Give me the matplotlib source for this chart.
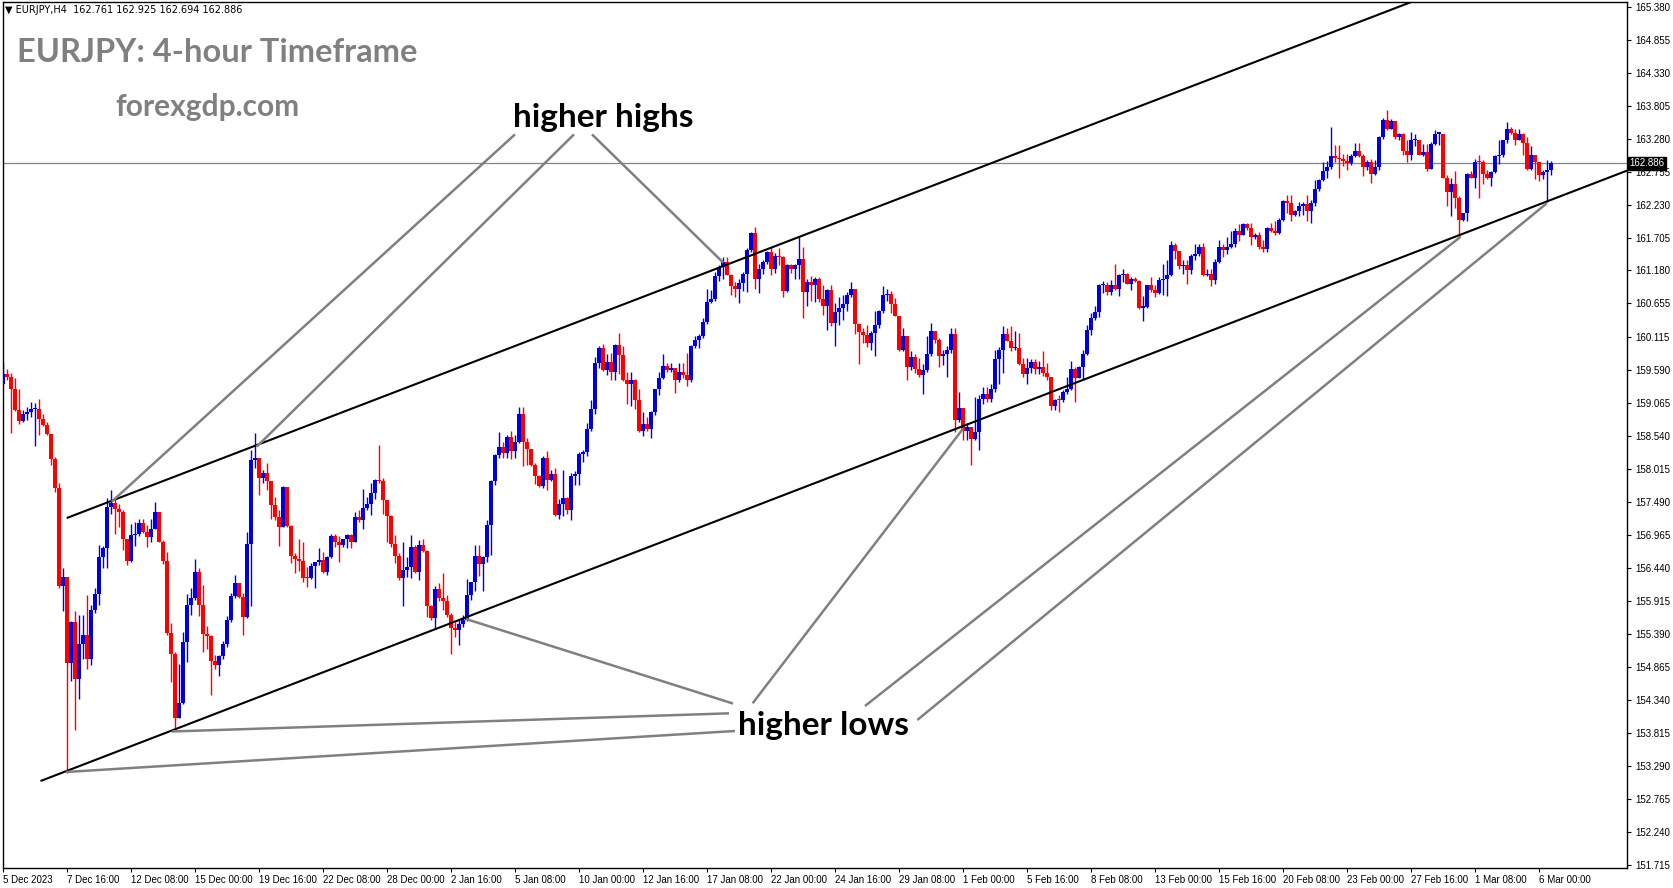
import matplotlib
matplotlib.use('Agg')
import matplotlib.pyplot as plt

# EURJPY H4 candles, 5 Dec 2023 -> 6 Mar 2024
first_open = 159.38
closes = [
    159.53, 159.49, 159.30, 158.96, 158.79, 158.90, 158.93, 158.97, 158.98, 158.82,
    158.72, 158.57, 158.17, 157.71, 156.16, 156.30, 154.93, 155.59, 154.68, 155.23,
    155.38, 154.99, 155.77, 156.03, 156.61, 156.76, 157.42, 157.48, 157.38, 157.34,
    156.90, 156.56, 156.97, 156.98, 157.16, 157.02, 156.93, 157.07, 157.33, 156.86,
    156.56, 155.40, 155.08, 154.06, 154.29, 155.26, 155.85, 155.96, 156.38, 155.85,
    155.39, 155.36, 154.96, 154.90, 155.04, 155.24, 155.61, 155.99, 156.20, 155.98,
    155.66, 156.82, 158.16, 158.19, 157.87, 157.96, 157.83, 157.45, 157.25, 157.10,
    157.74, 157.11, 156.63, 156.58, 156.56, 156.29, 156.28, 156.47, 156.53, 156.57,
    156.38, 156.62, 156.95, 156.86, 156.81, 156.90, 156.97, 156.85, 157.25, 157.21,
    157.39, 157.46, 157.63, 157.85, 157.82, 157.53, 157.27, 156.83, 156.63, 156.28,
    156.41, 156.46, 156.78, 156.38, 156.81, 156.72, 155.84, 155.64, 156.10, 155.96,
    155.92, 155.69, 155.48, 155.45, 155.55, 155.61, 156.01, 156.22, 156.63, 156.51,
    156.62, 157.13, 157.82, 158.24, 158.37, 158.28, 158.53, 158.31, 158.45, 158.89,
    158.45, 158.33, 158.08, 157.91, 157.75, 158.20, 157.85, 157.94, 157.29, 157.46,
    157.55, 157.37, 157.91, 157.94, 158.26, 158.29, 158.65, 158.97, 159.71, 159.94,
    159.59, 159.73, 159.57, 159.99, 159.83, 159.44, 159.38, 159.44, 159.11, 158.63,
    158.74, 158.65, 158.93, 159.29, 159.46, 159.66, 159.59, 159.62, 159.44, 159.57,
    159.51, 159.44, 159.98, 160.07, 160.13, 160.36, 160.67, 160.72, 161.09, 161.23,
    161.32, 161.11, 160.93, 160.88, 160.98, 161.13, 161.50, 161.77, 161.04, 161.21,
    161.32, 161.48, 161.20, 161.41, 161.40, 160.86, 161.27, 161.20, 161.27, 161.36,
    160.83, 161.00, 160.95, 161.04, 160.72, 160.61, 160.87, 160.35, 160.52, 160.58,
    160.65, 160.79, 160.88, 160.33, 160.20, 160.15, 160.02, 160.18, 160.31, 160.54,
    160.79, 160.81, 160.65, 160.46, 159.92, 160.13, 159.65, 159.80, 159.61, 159.52,
    159.60, 159.85, 160.22, 160.08, 159.82, 159.85, 159.92, 160.17, 158.80, 158.99,
    158.63, 158.68, 158.49, 158.61, 159.14, 159.21, 159.13, 159.29, 159.77, 159.92,
    160.17, 160.06, 159.94, 159.94, 159.69, 159.53, 159.62, 159.73, 159.61, 159.65,
    159.54, 159.49, 159.02, 159.12, 159.11, 159.25, 159.30, 159.61, 159.46, 159.64,
    159.85, 160.23, 160.42, 160.52, 160.95, 160.95, 160.84, 160.95, 160.88, 161.11,
    161.12, 160.97, 161.05, 161.02, 160.59, 160.60, 160.95, 160.87, 160.82, 161.03,
    161.04, 161.11, 161.58, 161.49, 161.25, 161.27, 161.19, 161.41, 161.44, 161.56,
    161.11, 161.12, 161.03, 161.32, 161.56, 161.50, 161.56, 161.60, 161.81, 161.74,
    161.92, 161.85, 161.71, 161.74, 161.56, 161.52, 161.85, 161.81, 161.77, 161.98,
    162.29, 162.26, 162.06, 162.12, 162.21, 162.24, 162.12, 162.26, 162.47, 162.62,
    162.77, 162.83, 163.00, 162.97, 162.95, 162.93, 162.89, 163.00, 163.09, 163.00,
    162.82, 162.90, 162.72, 162.83, 163.31, 163.58, 163.43, 163.56, 163.31, 163.36,
    163.09, 163.02, 163.25, 163.26, 163.02, 163.07, 162.79, 163.19, 163.36, 163.36,
    162.66, 162.43, 162.56, 162.34, 161.98, 162.09, 162.71, 162.66, 162.91, 162.90,
    162.71, 162.66, 162.75, 163.00, 163.02, 163.25, 163.44, 163.37, 163.25, 163.35,
    163.21, 162.79, 163.02, 162.91, 162.70, 162.75, 162.78, 162.886,
]
highs = [
    159.73, 159.61, 159.54, 159.46, 159.30, 158.96, 159.01, 159.09, 159.07, 159.13,
    158.89, 158.77, 158.47, 158.21, 157.80, 156.44, 156.30, 155.60, 155.75, 155.69,
    155.69, 156.01, 155.85, 156.12, 156.81, 156.79, 157.55, 157.69, 157.54, 157.46,
    157.36, 156.91, 157.15, 157.18, 157.23, 157.23, 157.13, 157.22, 157.49, 157.34,
    156.89, 156.70, 155.56, 155.10, 154.92, 155.43, 156.03, 156.12, 156.59, 156.45,
    156.17, 155.52, 155.37, 155.06, 155.06, 155.28, 155.67, 156.04, 156.33, 156.21,
    156.04, 157.02, 158.32, 158.59, 158.20, 158.01, 158.12, 157.80, 157.58, 157.37,
    157.75, 157.73, 157.13, 156.68, 156.91, 156.86, 156.46, 156.52, 156.54, 156.76,
    156.70, 156.63, 156.99, 156.99, 156.95, 156.91, 156.99, 156.99, 157.34, 157.37,
    157.70, 157.57, 157.79, 157.86, 158.40, 157.87, 157.50, 157.29, 156.97, 156.68,
    156.86, 156.62, 156.97, 156.81, 156.89, 156.91, 156.73, 155.85, 156.16, 156.21,
    156.37, 156.01, 155.72, 155.59, 155.61, 155.69, 156.26, 156.22, 156.81, 156.81,
    156.63, 157.20, 157.84, 158.26, 158.60, 158.45, 158.56, 158.63, 158.56, 159.00,
    159.00, 158.51, 158.16, 158.11, 157.92, 158.22, 158.31, 158.01, 158.04, 157.54,
    158.00, 157.58, 157.95, 157.98, 158.29, 158.32, 158.75, 159.11, 159.81, 159.98,
    160.01, 159.85, 159.86, 160.01, 160.18, 159.98, 159.57, 159.57, 159.45, 159.30,
    158.92, 158.85, 158.95, 159.30, 159.57, 159.85, 159.70, 159.70, 159.62, 159.70,
    159.70, 159.86, 159.99, 160.14, 160.17, 160.42, 160.88, 160.87, 161.16, 161.27,
    161.40, 161.40, 161.13, 161.00, 161.05, 161.16, 161.53, 161.80, 161.87, 161.28,
    161.35, 161.49, 161.55, 161.46, 161.53, 161.41, 161.28, 161.28, 161.28, 161.71,
    161.55, 161.05, 161.09, 161.07, 161.07, 160.95, 160.88, 160.95, 160.66, 160.75,
    160.79, 160.84, 160.99, 160.89, 160.34, 160.27, 160.31, 160.22, 160.54, 160.55,
    160.93, 160.88, 160.86, 160.74, 160.46, 160.26, 160.14, 159.89, 159.85, 159.78,
    159.69, 160.14, 160.35, 160.22, 160.10, 159.92, 159.97, 160.27, 160.27, 159.25,
    158.93, 158.75, 158.67, 159.16, 159.20, 159.32, 159.33, 159.38, 159.92, 159.96,
    160.29, 160.26, 160.29, 160.21, 160.19, 159.78, 159.78, 159.77, 159.77, 159.74,
    159.89, 159.71, 159.49, 159.14, 159.20, 159.28, 159.49, 159.74, 159.64, 159.66,
    159.92, 160.31, 160.50, 160.61, 160.96, 161.02, 160.99, 161.03, 161.28, 161.13,
    161.20, 161.14, 161.08, 161.08, 161.03, 160.77, 160.95, 161.08, 160.95, 161.07,
    161.28, 161.34, 161.65, 161.62, 161.49, 161.35, 161.35, 161.44, 161.60, 161.60,
    161.61, 161.21, 161.21, 161.36, 161.67, 161.60, 161.72, 161.81, 161.85, 161.92,
    161.94, 161.94, 161.94, 161.78, 161.80, 161.66, 161.87, 161.94, 161.96, 162.01,
    162.31, 162.38, 162.38, 162.14, 162.27, 162.27, 162.38, 162.30, 162.62, 162.63,
    162.91, 162.93, 163.47, 163.18, 163.18, 163.03, 163.03, 163.04, 163.21, 163.21,
    163.03, 162.94, 162.95, 162.94, 163.32, 163.60, 163.73, 163.59, 163.53, 163.37,
    163.37, 163.26, 163.39, 163.36, 163.25, 163.20, 163.20, 163.23, 163.42, 163.37,
    163.25, 162.70, 162.66, 162.77, 162.36, 162.10, 162.73, 162.77, 162.95, 163.02,
    162.94, 162.78, 162.77, 163.02, 163.26, 163.26, 163.55, 163.47, 163.43, 163.43,
    163.37, 163.31, 163.16, 163.02, 162.86, 162.78, 162.94, 162.925,
]
lows = [
    159.36, 159.43, 158.59, 158.94, 158.73, 158.76, 158.80, 158.85, 158.39, 158.56,
    158.70, 158.56, 158.08, 157.66, 156.12, 155.75, 153.17, 154.65, 153.87, 154.35,
    155.00, 154.84, 154.90, 155.73, 155.85, 156.44, 156.44, 157.31, 156.98, 157.10,
    156.73, 156.49, 156.54, 156.79, 156.95, 157.00, 156.78, 156.85, 157.06, 156.85,
    156.50, 155.38, 154.62, 153.89, 154.06, 154.28, 154.95, 155.69, 155.94, 155.67,
    155.11, 155.15, 154.42, 154.84, 154.72, 154.99, 155.19, 155.59, 155.97, 155.97,
    155.38, 155.64, 155.84, 158.04, 157.60, 157.79, 157.69, 157.23, 157.20, 156.79,
    157.10, 157.10, 156.52, 156.36, 156.40, 156.22, 156.14, 156.26, 156.12, 156.49,
    156.36, 156.33, 156.60, 156.78, 156.54, 156.77, 156.76, 156.76, 156.86, 157.18,
    157.07, 157.36, 157.29, 157.54, 157.79, 157.31, 156.86, 156.78, 156.52, 156.25,
    155.84, 156.30, 156.28, 156.36, 156.25, 156.70, 155.66, 155.62, 155.47, 155.91,
    155.78, 155.66, 155.08, 155.35, 155.22, 155.51, 155.60, 155.93, 156.08, 156.31,
    156.08, 156.53, 156.65, 157.76, 158.20, 158.19, 158.19, 158.17, 158.19, 158.43,
    158.06, 158.08, 158.06, 157.78, 157.73, 157.71, 157.69, 157.82, 157.27, 157.23,
    157.27, 157.31, 157.21, 157.76, 157.76, 158.13, 158.22, 158.63, 158.89, 159.62,
    159.58, 159.52, 159.43, 159.44, 159.53, 159.42, 159.06, 159.02, 158.97, 158.61,
    158.54, 158.63, 158.51, 158.88, 159.20, 159.45, 159.57, 159.57, 159.23, 159.41,
    159.46, 159.34, 159.41, 159.95, 159.95, 160.10, 160.33, 160.66, 160.70, 161.02,
    161.04, 161.11, 160.79, 160.75, 160.66, 160.86, 160.84, 161.48, 160.88, 160.82,
    161.13, 161.28, 161.11, 161.14, 161.27, 160.76, 160.84, 161.14, 161.05, 161.05,
    160.43, 160.61, 160.70, 160.68, 160.68, 160.47, 160.24, 160.29, 159.98, 160.31,
    160.39, 160.54, 160.75, 160.17, 159.69, 160.03, 159.96, 159.92, 159.82, 160.27,
    160.51, 160.70, 160.50, 160.45, 159.90, 159.89, 159.43, 159.60, 159.54, 159.49,
    159.21, 159.57, 159.82, 160.03, 159.65, 159.67, 159.48, 159.87, 158.61, 158.77,
    158.48, 158.48, 158.08, 158.48, 158.32, 159.05, 159.09, 159.09, 159.25, 159.37,
    159.54, 160.05, 159.90, 159.91, 159.67, 159.49, 159.38, 159.54, 159.53, 159.53,
    159.50, 159.44, 158.96, 158.96, 158.92, 159.08, 159.22, 159.28, 159.08, 159.46,
    159.44, 159.83, 160.15, 160.39, 160.44, 160.82, 160.79, 160.79, 160.87, 160.77,
    161.00, 160.96, 160.87, 161.00, 160.56, 160.38, 160.59, 160.84, 160.76, 160.80,
    160.79, 160.77, 161.09, 161.36, 161.20, 161.13, 160.96, 161.13, 161.34, 161.41,
    161.09, 161.09, 160.93, 160.96, 161.30, 161.40, 161.45, 161.53, 161.56, 161.65,
    161.74, 161.83, 161.58, 161.68, 161.52, 161.48, 161.48, 161.80, 161.74, 161.76,
    161.97, 162.10, 161.97, 162.05, 162.05, 162.06, 161.97, 161.94, 162.21, 162.45,
    162.61, 162.66, 162.79, 162.90, 162.66, 162.84, 162.78, 162.86, 162.98, 162.98,
    162.68, 162.78, 162.57, 162.70, 162.78, 163.27, 163.42, 163.46, 163.27, 163.25,
    163.02, 162.90, 162.94, 163.16, 163.02, 163.00, 162.77, 162.79, 163.18, 163.18,
    162.65, 162.20, 162.05, 162.17, 161.73, 161.97, 161.97, 162.65, 162.50, 162.34,
    162.56, 162.63, 162.52, 162.73, 162.88, 162.99, 163.21, 163.36, 163.18, 163.31,
    163.02, 162.78, 162.78, 162.63, 162.61, 162.63, 162.27, 162.694,
]

date_labels = ['5 Dec 2023', '7 Dec 16:00', '12 Dec 08:00', '15 Dec 00:00', '19 Dec 16:00',
               '22 Dec 08:00', '28 Dec 00:00', '2 Jan 16:00', '5 Jan 08:00', '10 Jan 00:00',
               '12 Jan 16:00', '17 Jan 08:00', '22 Jan 00:00', '24 Jan 16:00', '29 Jan 08:00',
               '1 Feb 00:00', '5 Feb 16:00', '8 Feb 08:00', '13 Feb 00:00', '15 Feb 16:00',
               '20 Feb 08:00', '23 Feb 00:00', '27 Feb 16:00', '1 Mar 08:00', '6 Mar 00:00']
date_step = 16

price_labels = ['165.380', '164.855', '164.330', '163.805', '163.280', '162.755', '162.230',
                '161.705', '161.180', '160.655', '160.115', '159.590', '159.065', '158.540',
                '158.015', '157.490', '156.965', '156.440', '155.915', '155.390', '154.865',
                '154.340', '153.815', '153.290', '152.765', '152.240', '151.715']
last_price = 162.886
header = '\u25bc EURJPY,H4  162.761 162.925 162.694 162.886'

# trend lines (bar index, price)
upper_channel = [(15.93, 157.238), (360.0, 165.649)]
lower_channel = [(9.375, 153.05), (406.0, 162.77)]
highs_pointers = [
    [(128.0, 163.347), (27.18, 157.498)],
    [(142.75, 163.347), (63.43, 158.374)],
    [(147.25, 163.347), (180.08, 161.304)],
]
lows_pointers = [
    [(182.5, 154.284), (115.75, 155.630)],
    [(181.5, 154.128), (42.25, 153.839)],
    [(183.0, 153.847), (15.75, 153.194)],
    [(187.4, 154.288), (240.08, 158.667)],
    [(215.5, 154.245), (364.43, 161.718)],
    [(228.58, 154.022), (385.93, 162.249)],
]

W, H = 1673, 888
fig = plt.figure(figsize=(W / 100, H / 100), dpi=100)
ax = fig.add_axes([2.7 / W, 1 - 867.7 / H, (1626.7 - 2.7) / W, (867.7 - 2) / H])
ax.set_xlim(-0.075, 405.925)
ax.set_ylim(151.670, 165.455)

opens = [first_open] + closes[:-1]
idx = list(range(len(closes)))
colors = ['#0000DC' if c >= o else '#FF0000' for o, c in zip(opens, closes)]
bottoms = [min(o, c) for o, c in zip(opens, closes)]
heights = [max(abs(c - o), 0.018) for o, c in zip(opens, closes)]
hi = [max(h, o, c) for h, o, c in zip(highs, opens, closes)]
lo = [min(l, o, c) for l, o, c in zip(lows, opens, closes)]

ax.axhline(last_price, color='#7A8696', lw=0.9, zorder=1)
ax.vlines(idx, lo, hi, colors=colors, lw=1.0, zorder=2)
ax.bar(idx, heights, bottom=bottoms, width=0.8, color=colors, linewidth=0, zorder=3)

for line in [upper_channel, lower_channel]:
    xs, ys = zip(*line)
    ax.plot(xs, ys, color='black', lw=1.5, zorder=4, solid_capstyle='butt')
for line in highs_pointers + lows_pointers:
    xs, ys = zip(*line)
    ax.plot(xs, ys, color='#808080', lw=1.8, zorder=4, solid_capstyle='butt')

ax.yaxis.tick_right()
ax.set_yticks([float(p) for p in price_labels])
ax.set_yticklabels(price_labels, fontsize=7, family='Liberation Sans')
ax.tick_params(axis='y', length=3, width=0.8, pad=3)

ax.set_xticks(list(range(0, date_step * len(date_labels), date_step)))
ax.set_xticklabels(date_labels, fontsize=7, family='Liberation Sans')
for lbl in ax.get_xticklabels():
    lbl.set_ha('left')
ax.tick_params(axis='x', length=3, width=0.8, pad=2)
for s in ax.spines.values():
    s.set_linewidth(1.0)

ax.text(1.0015, last_price, f'{last_price:.3f}', transform=ax.get_yaxis_transform(),
        ha='left', va='center', color='white', fontsize=7, family='Liberation Sans',
        bbox=dict(boxstyle='square,pad=0.15', fc='black', ec='black'), zorder=6)


def px(x, y):
    return x / W, 1 - y / H


fig.text(*px(5, 10), header, fontsize=7, family='DejaVu Sans', va='center', ha='left')
fig.text(*px(17, 52), 'EURJPY: 4-hour Timeframe', fontsize=23.5, weight='bold',
         family='Lato', color='#808080', va='center', ha='left')
fig.text(*px(115, 107), 'forexgdp.com', fontsize=21.5, weight='bold',
         family='Lato', color='#808080', va='center', ha='left')
fig.text(*px(513, 117), 'higher highs', fontsize=24, weight='bold',
         family='Lato', color='black', va='center', ha='left')
fig.text(*px(738, 725), 'higher lows', fontsize=24, weight='bold',
         family='Lato', color='black', va='center', ha='left')

fig.savefig('out.png', dpi=100)
